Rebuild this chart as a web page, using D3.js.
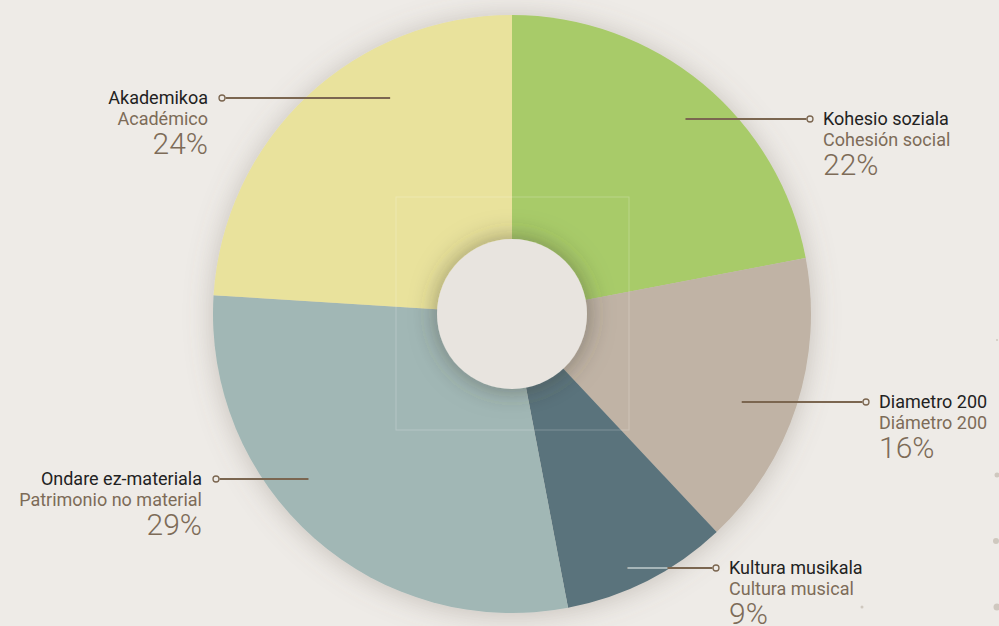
<!DOCTYPE html>
<html lang="eu">
<head>
  <meta charset="UTF-8">
  <title>Donut chart</title>
  <script src="https://d3js.org/d3.v7.min.js"></script>
  <style>
    html, body { margin: 0; padding: 0; background: #eeebe7; }
    svg { display: block; font-family: Roboto, "Open Sans", sans-serif; }
    .lead { stroke: #7b6650; stroke-width: 2px; fill: none; }
    .lead-dot { stroke: #7b6650; stroke-width: 1.3px; fill: #eeebe7; }
    .name { fill: #222; font-size: 18px; }
    .name-es { fill: #7d6b58; font-size: 18px; }
    .pct { fill: #7d6b58; font-size: 30px; font-weight: 300; }
  </style>
</head>
<body>
  <svg width="999" height="626"></svg>

  <script>
    // data, clockwise from 12 o'clock
    const namesEu = ["Kohesio soziala", "Diametro 200", "Kultura musikala", "Ondare ez-materiala", "Akademikoa"];
    const namesEs = ["Cohesión social", "Diámetro 200", "Cultura musical", "Patrimonio no material", "Académico"];
    const values = [22, 16, 9, 29, 24];
    const colors = ["#a8cb69", "#c0b3a5", "#5a737b", "#a1b7b5", "#e9e29c"];

    // label placement: horizontal leader line at y, from radius r inside slice to the dot at x
    const labelLayout = [
      { y: 119, r: 261, dotX: 810, side: "right" },
      { y: 402, r: 246, dotX: 866, side: "right" },
      { y: 568, r: 279, dotX: 716, side: "right" },
      { y: 479, r: 262, dotX: 216, side: "left" },
      { y: 98,  r: 248, dotX: 222, side: "left" }
    ];

    const svg = d3.select("svg");
    const cx = 512, cy = 314, outerR = 299, holeR = 75;

    const defs = svg.append("defs");
    defs.append("filter").attr("id", "pieShadow")
      .attr("x", "-20%").attr("y", "-20%").attr("width", "140%").attr("height", "140%")
      .append("feDropShadow")
      .attr("dx", 0).attr("dy", 2).attr("stdDeviation", 14)
      .attr("flood-color", "#7a7062").attr("flood-opacity", 0.35);
    defs.append("filter").attr("id", "holeShadow")
      .attr("x", "-50%").attr("y", "-50%").attr("width", "200%").attr("height", "200%")
      .append("feDropShadow")
      .attr("dx", 0).attr("dy", 0).attr("stdDeviation", 13)
      .attr("flood-color", "#3e3a30").attr("flood-opacity", 0.5);

    const data = values.map((v, i) => ({ value: v, eu: namesEu[i], es: namesEs[i], color: colors[i], lay: labelLayout[i] }));

    const pie = d3.pie().sort(null).value(d => d.value);
    const arc = d3.arc().innerRadius(0).outerRadius(outerR);
    const arcs = pie(data);

    const g = svg.append("g").attr("transform", `translate(${cx},${cy})`);

    g.append("g")
      .attr("filter", "url(#pieShadow)")
      .selectAll("path")
      .data(arcs)
      .enter()
      .append("path")
      .attr("d", arc)
      .attr("fill", d => d.data.color);

    // hole
    g.append("circle")
      .attr("r", holeR)
      .attr("fill", "#e8e4df")
      .attr("filter", "url(#holeShadow)");

    // faint frame in the middle
    g.append("rect")
      .attr("x", -116).attr("y", -117)
      .attr("width", 233).attr("height", 233)
      .attr("fill", "none")
      .attr("stroke", "#ffffff")
      .attr("stroke-opacity", 0.22);

    // leader lines + labels
    const labels = svg.append("g");
    arcs.forEach(a => {
      const L = a.data.lay;
      // start point: on the horizontal line y, at distance r from the centre, inside the slice
      const dy = L.y - cy;
      const dx = Math.sqrt(Math.max(L.r * L.r - dy * dy, 0)) * (L.side === "right" ? 1 : -1);
      const x0 = cx + dx;
      const dotOff = L.side === "right" ? -3.5 : 3.5;

      labels.append("line").attr("class", "lead")
        .attr("x1", x0).attr("y1", L.y)
        .attr("x2", L.dotX + dotOff).attr("y2", L.y);

      // part of the leader lying on the dark slice shows lighter
      if (a.data.color === "#5a737b") {
        labels.append("line")
          .attr("x1", x0).attr("y1", L.y)
          .attr("x2", x0 + 40).attr("y2", L.y)
          .attr("stroke", "#a6b6b9").attr("stroke-width", 2);
      }

      labels.append("circle").attr("class", "lead-dot")
        .attr("cx", L.dotX).attr("cy", L.y).attr("r", 3);

      const tx = L.side === "right" ? L.dotX + 13 : L.dotX - 14;
      const anchor = L.side === "right" ? "start" : "end";
      const t = labels.append("g").attr("text-anchor", anchor);
      t.append("text").attr("class", "name").attr("x", tx).attr("y", L.y + 6).text(a.data.eu);
      t.append("text").attr("class", "name-es").attr("x", tx).attr("y", L.y + 27).text(a.data.es);
      t.append("text").attr("class", "pct").attr("x", tx).attr("y", L.y + 56).text(a.data.value + "%");
    });

    // decorative dots along the right edge
    const decoDots = [[997, 340, 1], [997, 475, 2.5], [996, 541, 3], [997, 607, 3.5], [862, 607, 1.5]];
    svg.append("g").selectAll("circle")
      .data(decoDots)
      .enter()
      .append("circle")
      .attr("cx", d => d[0]).attr("cy", d => d[1]).attr("r", d => d[2])
      .attr("fill", "#cfc8bf");
  </script>
</body>
</html>
